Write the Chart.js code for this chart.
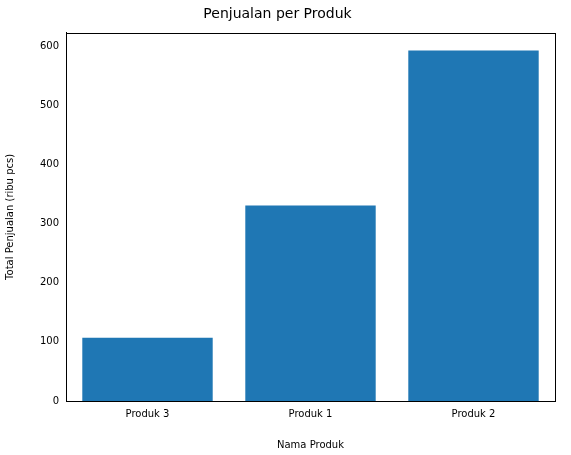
<!DOCTYPE html>
<html><head><style>html,body{margin:0;padding:0;background:#fff}</style>
<script src="https://cdn.jsdelivr.net/npm/chart.js@4"></script></head>
<body><div style="width:571px;height:455px"><canvas id="c" width="571" height="455"></canvas></div>
<script>
const categories = ["Produk 3", "Produk 1", "Produk 2"];
const sales = [107, 331, 593];
const yTicks = [0, 100, 200, 300, 400, 500, 600];
const F = "'DejaVu Sans'";
const frame = {id:'frame', afterDatasetsDraw(c){const a=c.chartArea,x=c.ctx;x.save();x.strokeStyle='#000';x.lineWidth=1;x.strokeRect(Math.round(a.left)+0.5,Math.round(a.top)+0.5,Math.round(a.width),Math.round(a.height));x.restore();}};
new Chart(document.getElementById('c'), {
  type:'bar',
  data:{labels:categories, datasets:[{data:sales, backgroundColor:'#1f77b4', categoryPercentage:1, barPercentage:0.8}]},
  options:{responsive:false, animation:false, devicePixelRatio:1,
    layout:{padding:{left:0,right:16,top:0,bottom:0}},
    plugins:{legend:{display:false}, tooltip:{enabled:false},
      title:{display:true,text:'Penjualan per Produk',color:'#000',font:{family:F,size:14,weight:'normal'},padding:{top:6,bottom:10}}},
    scales:{
      x:{grid:{display:false,drawTicks:true,tickLength:4},border:{color:'#000'},
        ticks:{color:'#000',font:{family:F,size:10},padding:3},
        title:{display:true,text:'Nama Produk',color:'#000',font:{family:F,size:10},padding:{top:2}},
        afterFit(s){s.height=54;}},
      y:{min:0,max:623,grid:{display:false,tickLength:4},border:{color:'#000'},
        afterBuildTicks(s){s.ticks=yTicks.map(v=>({value:v}));},
        ticks:{color:'#000',font:{family:F,size:10},padding:3},
        title:{display:true,text:'Total Penjualan (ribu pcs)',color:'#000',font:{family:F,size:10},padding:{bottom:4}},
        afterFit(s){s.width=66;}}
    }},
  plugins:[frame]
});
</script></body></html>
